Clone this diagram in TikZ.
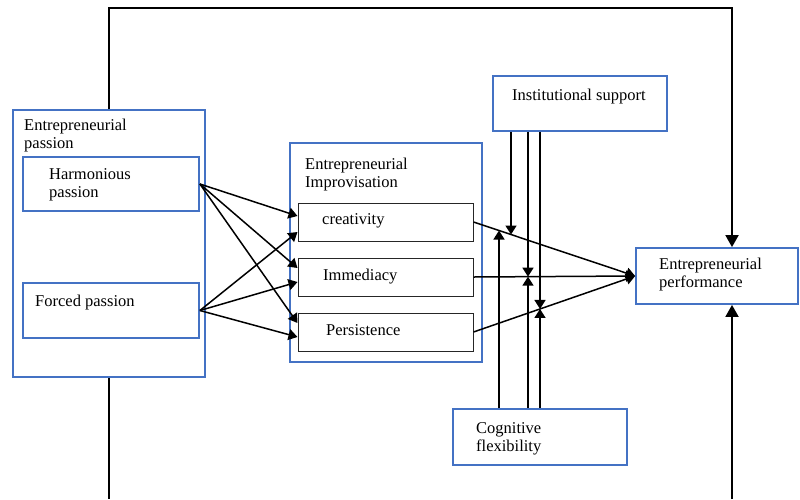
\documentclass[tikz,border=0pt]{standalone}
\usepackage{fontspec}
\setmainfont{Liberation Serif}
\usetikzlibrary{arrows.meta,calc,intersections,positioning}
\definecolor{boxblue}{RGB}{68,114,196}

\begin{document}
\begin{tikzpicture}[x=1pt,y=-1pt]
    \tikzstyle{bluebox}=[rectangle,draw=boxblue,line width=1.8pt,inner sep=0pt]
    \tikzstyle{subbox}=[rectangle,draw=black!85,line width=1pt,inner sep=0pt,
                        minimum width=175pt,minimum height=38pt]
    \tikzstyle{txt}=[anchor=base west,align=left,inner sep=0pt,
                     font=\fontsize{16.5}{17.5}\selectfont]
    \tikzstyle{link}=[-{Triangle[length=9pt,width=11pt]},line width=1.5pt]
    \tikzstyle{feedback}=[-{Triangle[length=12pt,width=13pt]},line width=1.8pt]

    \useasboundingbox (0,0) rectangle (800,499);

    % passion
    \node[bluebox,minimum width=192pt,minimum height=267pt] (EP) at (109,243.5) {};
    \node[bluebox,minimum width=176pt,minimum height=54pt] (HP) at (111,184) {};
    \node[bluebox,minimum width=176pt,minimum height=55pt] (FP) at (111,310.5) {};
    \node[txt] (EPtext) at (24,148) {Entrepreneurial\\passion};
    \node[txt] (HPtext) at (49,197) {Harmonious\\passion};
    \node[txt] (FPtext) at (35,306) {Forced passion};

    % improvisation
    \node[bluebox,minimum width=192pt,minimum height=219pt] (EI) at (386,252.5) {};
    \foreach \name/\y in {CR/222, IM/277, PE/332}
        \node[subbox] (\name) at (385.5,\y) {};
    \node[txt] (EItext) at (305,187) {Entrepreneurial\\Improvisation};
    \node[txt] (CRtext) at (322,224) {creativity};
    \node[txt] (IMtext) at (323,280) {Immediacy};
    \node[txt] (PEtext) at (326,335) {Persistence};

    % moderators and outcome
    \node[bluebox,minimum width=174pt,minimum height=55pt] (IS) at (580,103.5) {};
    \node[bluebox,minimum width=174pt,minimum height=56pt] (CF) at (540,437) {};
    \node[bluebox,minimum width=162pt,minimum height=56pt] (PF) at (717,276) {};
    \node[txt] (IStext) at (512,100) {Institutional support};
    \node[txt] (CFtext) at (476,451) {Cognitive\\flexibility};
    \node[txt] (PFtext) at (659,287) {Entrepreneurial\\performance};

    % passion -> improvisation
    \foreach \tgt/\dy in {CR/-6, IM/-9, PE/-9}
        \draw[link] (HP.east) -- ($(\tgt.west)+(0,\dy)$);
    \foreach \tgt/\dy in {CR/10, IM/5, PE/5}
        \draw[link] (FP.east) -- ($(\tgt.west)+(0,\dy)$);

    % improvisation -> performance
    \draw[link,name path=crline] (CR.east) -- (PF.west);
    \draw[link,name path=imline] (IM.east) -- (PF.west);
    \draw[link,name path=peline] (PE.east) -- (PF.west);

    % moderating arrows
    \foreach \isx/\cfx/\ln in {511/499/crline, 528/528/imline, 540/540/peline} {
        \coordinate (isx) at (\isx,0);
        \coordinate (cfx) at (\cfx,0);
        \path[name path=isv] (IS.south -| isx) -- ++(0,300);
        \path[name path=cfv] (CF.north -| cfx) -- ++(0,-300);
        \draw[link,name intersections={of=isv and \ln,name=up}] (IS.south -| isx) -- (up-1);
        \draw[link,name intersections={of=cfv and \ln,name=dn}] (CF.north -| cfx) -- (dn-1);
    }

    % feedback loop
    \coordinate (topright) at (732,8);
    \coordinate (botleft) at (109,499);
    \coordinate (botright) at (732,499);
    \draw[feedback] (EP.north) |- (topright) -- (topright |- PF.north);
    \draw[line width=1.8pt] (EP.south) -- (botleft);
    \draw[feedback] (botright) -- (botright |- PF.south);
\end{tikzpicture}
\end{document}
